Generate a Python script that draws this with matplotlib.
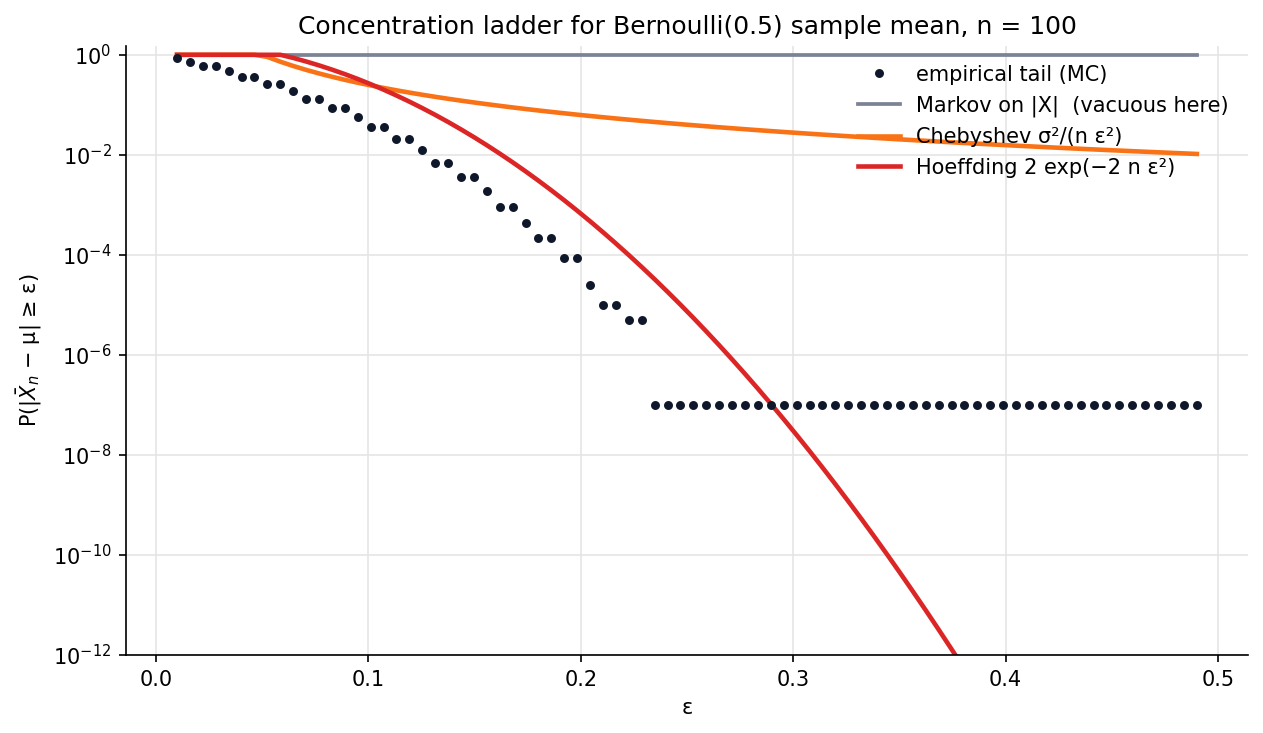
import numpy as np
import matplotlib
matplotlib.use("Agg")
import matplotlib.pyplot as plt

n = 100
sigma2 = 0.25

# epsilon grid used for every series
eps = np.linspace(0.01, 0.49, 80)

# Monte Carlo tail estimates (first 37 grid points);
# the remaining points sit on the 1e-7 floor
emp_head = [0.88, 0.73, 0.60, 0.60, 0.47, 0.36, 0.36, 0.26, 0.26, 0.19,
            0.13, 0.13, 0.086, 0.086, 0.058, 0.036, 0.036, 0.021, 0.021,
            0.0126, 0.0069, 0.0069, 0.0036, 0.0036, 0.0019, 9.0e-4, 9.0e-4,
            4.3e-4, 2.15e-4, 2.15e-4, 8.6e-5, 8.6e-5, 2.5e-5, 9.8e-6, 9.8e-6,
            4.9e-6, 4.9e-6]
emp_floor = 1e-7
empirical = np.array(emp_head + [emp_floor] * (len(eps) - len(emp_head)))

markov = np.ones_like(eps)
chebyshev = np.minimum(1.0, sigma2 / (n * eps**2))
hoeffding = np.minimum(1.0, 2 * np.exp(-2 * n * eps**2))

fig, ax = plt.subplots(figsize=(8.42, 4.887), dpi=150)
fig.subplots_adjust(left=0.0998, right=0.988, top=0.9372, bottom=0.1064)

ax.plot(eps, empirical, 'o', color='#0f172a', ms=3.3, label='empirical tail (MC)', zorder=4)
ax.plot(eps, markov, color='#7c8394', lw=1.8, label='Markov on |X|  (vacuous here)')
ax.plot(eps, chebyshev, color='#f97316', lw=2.2, label='Chebyshev σ²/(n ε²)')
ax.plot(eps, hoeffding, color='#dc2626', lw=2.2, label='Hoeffding 2 exp(−2 n ε²)')

ax.set_yscale('log')
ax.set_ylim(1e-12, 1.5)
ax.set_xlabel('ε')
ax.set_ylabel(r'P(|$\bar{X}_n$ − μ| ≥ ε)')
ax.set_title('Concentration ladder for Bernoulli(0.5) sample mean, n = 100')
ax.grid(True, color='#e5e5e5', lw=0.8)
ax.set_axisbelow(True)
ax.spines['top'].set_visible(False)
ax.spines['right'].set_visible(False)
ax.legend(loc='upper right', frameon=False)

fig.savefig('out.png', dpi=150)
